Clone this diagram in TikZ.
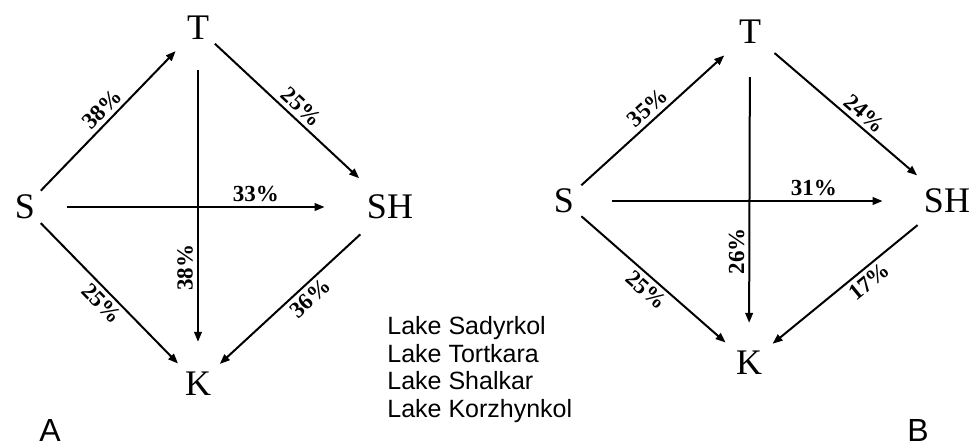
\documentclass[tikz,border=0pt]{standalone}
\usepackage{fontspec}
\setmainfont{Liberation Serif}
\newfontfamily\lakefont{Liberation Sans}
\usetikzlibrary{arrows.meta}
\tikzset{
    site/.style = { 
        inner sep=2pt, font=\fontsize{18}{20}\selectfont
    },
    share/.style = { 
        inner sep=2pt, font=\bfseries\fontsize{11.5}{13}\selectfont
    },
    tag/.style = {
        inner sep=0pt, font=\lakefont\fontsize{16}{18}\selectfont
    },
}
\tikzset{
    flow/.style = { 
        draw, line width=1pt, -{Triangle[length=5pt, width=3.8pt]}, shorten >=3pt, shorten <=1pt
    },
}

\begin{document}
\begin{tikzpicture}[x=0.5pt, y=-0.5pt]
        \useasboundingbox (0,0) rectangle (976,447);

        % Place the lakes (A)
        \node [site] (a-T) at (198,28) {T};
        \node [site] (a-S) at (25,207) {S};
        \node [site] (a-SH) at (390,207) {SH};
        \node [site] (a-K) at (198,384) {K};
        \node [tag] (a-tag) at (50,430) {A};

        % Draw connections (A)
        \draw[flow, shorten >=5pt] (a-S) -- node[share, sloped, above]{38\%} (a-T);
        \draw[flow, shorten >=9pt] (a-T) -- node[share, sloped, above]{25\%} (a-SH);
        \draw[flow, shorten <=14pt, shorten >=19pt] (a-S) -- node[share, above, pos=0.67]{33\%} (a-SH);
        \draw[flow, shorten <=13pt, shorten >=13pt] (a-T) -- node[share, rotate=90, anchor=south, pos=0.69]{38\%} (a-K);
        \draw[flow] (a-S) -- node[share, sloped, below]{25\%} (a-K);
        \draw[flow, shorten <=8pt] (a-SH) -- node[share, sloped, below, pos=0.45]{36\%} (a-K);

        % Place the lakes (B)
        \node [site] (b-T) at (750,32) {T};
        \node [site] (b-S) at (564,201) {S};
        \node [site] (b-SH) at (947,201) {SH};
        \node [site] (b-K) at (749,363) {K};
        \node [tag] (b-tag) at (918,430) {B};

        % Draw connections (B)
        \draw[flow, shorten <=2pt, shorten >=7pt] (b-S) -- node[share, sloped, above]{35\%} (b-T);
        \draw[flow, shorten <=6pt, shorten >=7pt] (b-T) -- node[share, sloped, above, pos=0.56]{24\%} (b-SH);
        \draw[flow, shorten <=17pt, shorten >=18.5pt] (b-S) -- node[share, above, pos=0.69]{31\%} (b-SH);
        \draw[flow, shorten <=14.5pt, shorten >=12pt] (b-T) -- node[share, rotate=90, anchor=south, pos=0.68]{26\%} (b-K);
        \draw[flow, shorten <=2pt, shorten >=4pt] (b-S) -- node[share, sloped, below]{25\%} (b-K);
        \draw[flow, shorten <=6pt, shorten >=4pt] (b-SH) -- node[share, sloped, below, pos=0.41]{17\%} (b-K);

        % Lake names
        \node [anchor=north west, align=left, inner sep=0pt, font=\lakefont\fontsize{12.5}{13.8}\selectfont] (lakes) at (387,316)
            {Lake Sadyrkol\\Lake Tortkara\\Lake Shalkar\\Lake Korzhynkol};
    \end{tikzpicture}
\end{document}
